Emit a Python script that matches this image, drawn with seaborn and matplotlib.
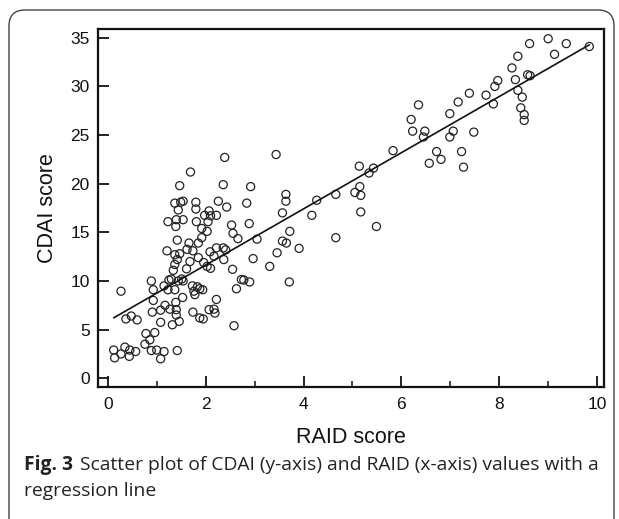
import matplotlib
matplotlib.use("Agg")
import matplotlib.pyplot as plt
import matplotlib.patches as mpatches
from matplotlib.ticker import MultipleLocator
import seaborn as sns
import pandas as pd

# RAID score (x) and CDAI score (y)
raid = [0.12, 0.27, 0.35, 0.45, 0.57, 0.44, 0.14,
        0.89, 1.00, 1.15, 1.08, 1.42,
        0.78, 0.96, 0.86, 0.76,
        0.37, 0.48, 0.60, 0.27,
        0.89, 0.93, 0.93, 0.91, 1.08, 1.17, 1.27, 1.40, 1.40, 1.46, 1.32, 1.08, 1.39, 1.53,
        1.15, 1.23, 1.37,
        1.25, 1.30, 1.44, 1.51, 1.54,
        1.73, 1.83, 1.88, 1.76, 1.78, 1.94,
        1.74, 1.88, 1.95, 2.07, 2.17, 2.19, 2.22, 2.58,
        2.63, 2.73, 2.78, 2.90, 3.71,
        1.34, 1.37, 1.61, 2.03, 2.10, 2.55, 3.31,
        1.42, 1.68, 1.85, 1.96, 2.37, 2.97,
        1.37, 1.47, 2.17, 2.09,
        1.21, 1.62, 1.74, 2.22, 2.36, 2.41, 3.46, 3.91,
        1.42, 1.66, 1.85, 1.92, 2.66, 3.05, 3.57, 3.65, 4.66,
        1.39, 1.92, 2.03, 2.56, 3.72, 2.53, 2.89,
        1.23, 1.40, 1.54, 1.81, 2.05, 1.98, 2.10, 2.22,
        1.44, 1.80, 2.07, 2.43, 3.57, 4.17,
        1.37, 1.49, 1.54, 1.80, 2.26, 2.84, 3.64, 4.27,
        1.47, 2.36, 2.92, 3.64, 4.66,
        1.69, 2.39, 3.44,
        5.05, 5.15, 5.17, 5.17, 5.49,
        5.14, 5.34, 5.43, 5.83,
        6.20, 6.35, 6.23, 6.48, 6.45,
        6.72, 6.81, 6.57,
        7.16, 6.99, 7.06, 6.99, 7.39, 7.48, 7.23, 7.27,
        7.73, 7.88, 7.91, 7.97, 8.26, 8.38, 8.33, 8.62, 8.58, 8.63, 8.38, 8.47, 8.44, 8.51, 8.51,
        9.00, 9.13, 9.37, 9.84]
cdai = [2.9, 2.5, 3.2, 2.9, 2.75, 2.25, 2.1,
        2.85, 2.9, 2.75, 2.0, 2.85,
        4.6, 4.7, 3.95, 3.5,
        6.1, 6.4, 6.0, 8.95,
        10.0, 9.1, 8.0, 6.8, 7.0, 7.5, 7.1, 7.05, 6.5, 5.85, 5.5, 5.75, 7.8, 8.3,
        9.5, 9.1, 9.1,
        10.1, 10.2, 10.0, 10.2, 10.0,
        9.5, 9.4, 9.2, 8.95, 8.6, 9.1,
        6.8, 6.2, 6.1, 7.05, 7.1, 6.7, 8.1, 5.4,
        9.2, 10.15, 10.1, 9.9, 9.9,
        11.1, 11.7, 11.25, 11.5, 11.3, 11.2, 11.5,
        12.2, 12.0, 12.4, 11.9, 12.2, 12.3,
        12.7, 12.8, 12.55, 13.0,
        13.1, 13.25, 13.1, 13.4, 13.4, 13.2, 12.9, 13.35,
        14.2, 13.9, 13.9, 14.45, 14.35, 14.3, 14.1, 13.9, 14.45,
        15.6, 15.4, 15.1, 14.9, 15.1, 15.75, 15.9,
        16.1, 16.3, 16.3, 16.1, 16.1, 16.75, 16.7, 16.75,
        17.3, 17.4, 17.2, 17.6, 17.0, 16.75,
        18.0, 18.1, 18.2, 18.1, 18.2, 18.0, 18.2, 18.3,
        19.8, 19.9, 19.7, 18.9, 18.9,
        21.2, 22.7, 23.0,
        19.1, 19.7, 18.8, 17.1, 15.6,
        21.8, 21.1, 21.6, 23.4,
        26.6, 28.1, 25.4, 25.4, 24.8,
        23.3, 22.5, 22.1,
        28.4, 27.2, 25.4, 24.8, 29.3, 25.3, 23.3, 21.7,
        29.1, 28.2, 30.0, 30.6, 31.9, 33.1, 30.7, 34.4, 31.2, 31.1, 29.6, 28.9, 27.8, 27.1, 26.5,
        34.9, 33.3, 34.4, 34.1]

x_ticks = [0, 2, 4, 6, 8, 10]
y_ticks = [0, 5, 10, 15, 20, 25, 30, 35]

df = pd.DataFrame({"RAID score": raid, "CDAI score": cdai})

sns.set_style("ticks")
plt.rcParams["font.family"] = ["Liberation Sans", "DejaVu Sans"]

fig = plt.figure(figsize=(6.19, 5.19), dpi=100)
ax = fig.add_axes([0.1583, 0.2543, 0.8174, 0.6898])

sns.regplot(data=df, x="RAID score", y="CDAI score", ax=ax, ci=None,
            scatter_kws={"s": 34, "facecolors": "none", "edgecolors": "#222222",
                         "linewidths": 0.9, "alpha": 1},
            line_kws={"color": "#111111", "lw": 1.2})

ax.set_xlim(-0.2, 10.14)
ax.set_ylim(-0.9, 35.9)
ax.set_xticks(x_ticks)
ax.set_yticks(y_ticks)
ax.xaxis.set_minor_locator(MultipleLocator(1))
ax.tick_params(axis="both", which="major", direction="in", length=8, width=1.3,
               labelsize=12.5, pad=7, colors="#111111")
ax.tick_params(axis="x", which="minor", direction="in", length=4, width=1.1, color="#111111")
ax.tick_params(axis="y", which="major", pad=6)
for s in ax.spines.values():
    s.set_visible(True)
    s.set_linewidth(1.6)
    s.set_color("#111111")

ax.set_xlabel("RAID score", fontsize=15.5, labelpad=11, color="#111111")
ax.set_ylabel("CDAI score", fontsize=15.5, labelpad=9, color="#111111")

# caption below the chart
cap_font = ["Open Sans", "DejaVu Sans"]
cap_size = 13.9
fig.text(24 / 619, 1 - 470 / 519, "Fig. 3", fontsize=cap_size, fontweight="bold",
         family=cap_font, color="#222222", va="baseline")
fig.text(80 / 619, 1 - 470 / 519,
         "Scatter plot of CDAI (y-axis) and RAID (x-axis) values with a",
         fontsize=cap_size, family=cap_font, color="#222222", va="baseline")
fig.text(24 / 619, 1 - 496 / 519, "regression line", fontsize=cap_size,
         family=cap_font, color="#222222", va="baseline")

# rounded frame around the figure
frame = mpatches.FancyBboxPatch((9, -20), 605, 529,
                                boxstyle="round,pad=0,rounding_size=16",
                                transform=None, fill=False, edgecolor="#444444", lw=1.0)
fig.add_artist(frame)

fig.savefig("out.png", dpi=100)
